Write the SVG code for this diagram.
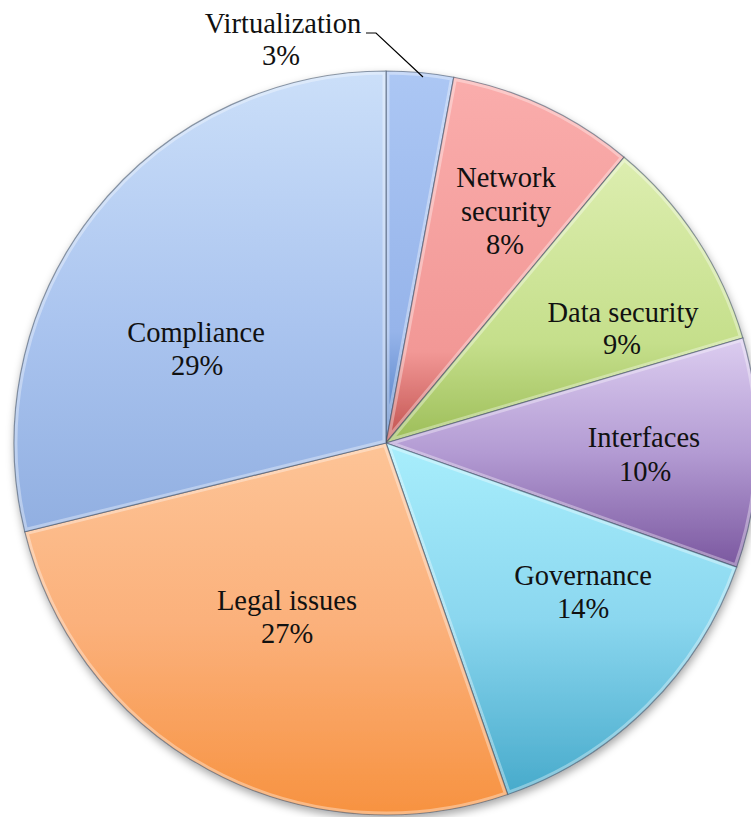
<svg xmlns="http://www.w3.org/2000/svg" xmlns:xlink="http://www.w3.org/1999/xlink" width="751" height="817" viewBox="0 0 751 817">
<style>
.lbl{font-family:"Liberation Serif","Times New Roman",serif;font-size:28.5px;fill:#111;text-anchor:middle}
.edge{fill:none;stroke:#3a4a60;stroke-opacity:0.55;stroke-width:1.2}
.bevel{fill:none;stroke:#fff;stroke-opacity:0.35;stroke-width:7}
.lead{fill:none;stroke:#000;stroke-width:1.2}
</style>
<defs>
<filter id="sh" x="-10%" y="-10%" width="120%" height="125%">
<feDropShadow dx="1" dy="4" stdDeviation="4" flood-color="#000" flood-opacity="0.35"/>
</filter>
<linearGradient id="gComp" x1="0" y1="0" x2="0" y2="1"><stop offset="0" stop-color="#cbdff9"/><stop offset="0.55" stop-color="#aac4ef"/><stop offset="1" stop-color="#91afe1"/></linearGradient>
<linearGradient id="gVirt" x1="0" y1="0" x2="0" y2="1"><stop offset="0" stop-color="#acc7f4"/><stop offset="0.7" stop-color="#96b4ea"/><stop offset="1" stop-color="#4a79c0"/></linearGradient>
<linearGradient id="gNet" x1="0" y1="0" x2="0" y2="1"><stop offset="0" stop-color="#faadac"/><stop offset="0.75" stop-color="#f29896"/><stop offset="1" stop-color="#c0504d"/></linearGradient>
<linearGradient id="gData" x1="0" y1="0" x2="0" y2="1"><stop offset="0" stop-color="#ddeeb0"/><stop offset="0.65" stop-color="#c5df8b"/><stop offset="1" stop-color="#9cbd58"/></linearGradient>
<linearGradient id="gInt" x1="0" y1="0" x2="0" y2="1"><stop offset="0" stop-color="#dccdf0"/><stop offset="0.5" stop-color="#b39bd3"/><stop offset="1" stop-color="#7a579f"/></linearGradient>
<linearGradient id="gGov" x1="0" y1="0" x2="0" y2="1"><stop offset="0" stop-color="#a8eefc"/><stop offset="0.5" stop-color="#8bd7ef"/><stop offset="1" stop-color="#47aacb"/></linearGradient>
<linearGradient id="gLeg" x1="0" y1="0" x2="0" y2="1"><stop offset="0" stop-color="#fdc497"/><stop offset="0.5" stop-color="#fbb07a"/><stop offset="1" stop-color="#f79240"/></linearGradient>
<path id="pVirt" d="M386,443 L386,71 A372,372 0 0 1 453.79,77.23 Z"/>
<path id="pNet" d="M386,443 L453.79,77.23 A372,372 0 0 1 624.12,157.20 Z"/>
<path id="pData" d="M386,443 L624.12,157.20 A372,372 0 0 1 742.86,337.97 Z"/>
<path id="pInt" d="M386,443 L742.86,337.97 A372,372 0 0 1 736.66,567.18 Z"/>
<path id="pGov" d="M386,443 L736.66,567.18 A372,372 0 0 1 507.73,794.52 Z"/>
<path id="pLeg" d="M386,443 L507.73,794.52 A372,372 0 0 1 24.74,531.73 Z"/>
<path id="pComp" d="M386,443 L24.74,531.73 A372,372 0 0 1 386,71 Z"/>
<clipPath id="cVirt"><use xlink:href="#pVirt"/></clipPath>
<clipPath id="cNet"><use xlink:href="#pNet"/></clipPath>
<clipPath id="cData"><use xlink:href="#pData"/></clipPath>
<clipPath id="cInt"><use xlink:href="#pInt"/></clipPath>
<clipPath id="cGov"><use xlink:href="#pGov"/></clipPath>
<clipPath id="cLeg"><use xlink:href="#pLeg"/></clipPath>
<clipPath id="cComp"><use xlink:href="#pComp"/></clipPath>
</defs>
<rect width="751" height="817" fill="#fff"/>
<g id="pie" filter="url(#sh)">
<g id="virtualization">
<use xlink:href="#pVirt" fill="url(#gVirt)"/>
<use xlink:href="#pVirt" class="bevel" clip-path="url(#cVirt)"/>
<use xlink:href="#pVirt" class="edge"/>
</g>
<g id="network-security">
<use xlink:href="#pNet" fill="url(#gNet)"/>
<use xlink:href="#pNet" class="bevel" clip-path="url(#cNet)"/>
<use xlink:href="#pNet" class="edge"/>
</g>
<g id="data-security">
<use xlink:href="#pData" fill="url(#gData)"/>
<use xlink:href="#pData" class="bevel" clip-path="url(#cData)"/>
<use xlink:href="#pData" class="edge"/>
</g>
<g id="interfaces">
<use xlink:href="#pInt" fill="url(#gInt)"/>
<use xlink:href="#pInt" class="bevel" clip-path="url(#cInt)"/>
<use xlink:href="#pInt" class="edge"/>
</g>
<g id="governance">
<use xlink:href="#pGov" fill="url(#gGov)"/>
<use xlink:href="#pGov" class="bevel" clip-path="url(#cGov)"/>
<use xlink:href="#pGov" class="edge"/>
</g>
<g id="legal-issues">
<use xlink:href="#pLeg" fill="url(#gLeg)"/>
<use xlink:href="#pLeg" class="bevel" clip-path="url(#cLeg)"/>
<use xlink:href="#pLeg" class="edge"/>
</g>
<g id="compliance">
<use xlink:href="#pComp" fill="url(#gComp)"/>
<use xlink:href="#pComp" class="bevel" clip-path="url(#cComp)"/>
<use xlink:href="#pComp" class="edge"/>
</g>
</g>
<g id="connectors">
<polyline class="lead" points="366,33 376,33 423,77"/>
</g>
<g id="labels">
<g id="label-virtualization"><text class="lbl" x="283" y="33">Virtualization</text><text class="lbl" x="281" y="65">3%</text></g>
<g id="label-network"><text class="lbl" x="506" y="187">Network</text><text class="lbl" x="506" y="221">security</text><text class="lbl" x="505" y="254">8%</text></g>
<g id="label-data"><text class="lbl" x="623" y="322">Data security</text><text class="lbl" x="622" y="354">9%</text></g>
<g id="label-interfaces"><text class="lbl" x="644" y="447">Interfaces</text><text class="lbl" x="645" y="481">10%</text></g>
<g id="label-governance"><text class="lbl" x="583" y="585">Governance</text><text class="lbl" x="583" y="618">14%</text></g>
<g id="label-legal"><text class="lbl" x="287" y="610">Legal issues</text><text class="lbl" x="287" y="643">27%</text></g>
<g id="label-compliance"><text class="lbl" x="196" y="342">Compliance</text><text class="lbl" x="197" y="375">29%</text></g>
</g>
</svg>
